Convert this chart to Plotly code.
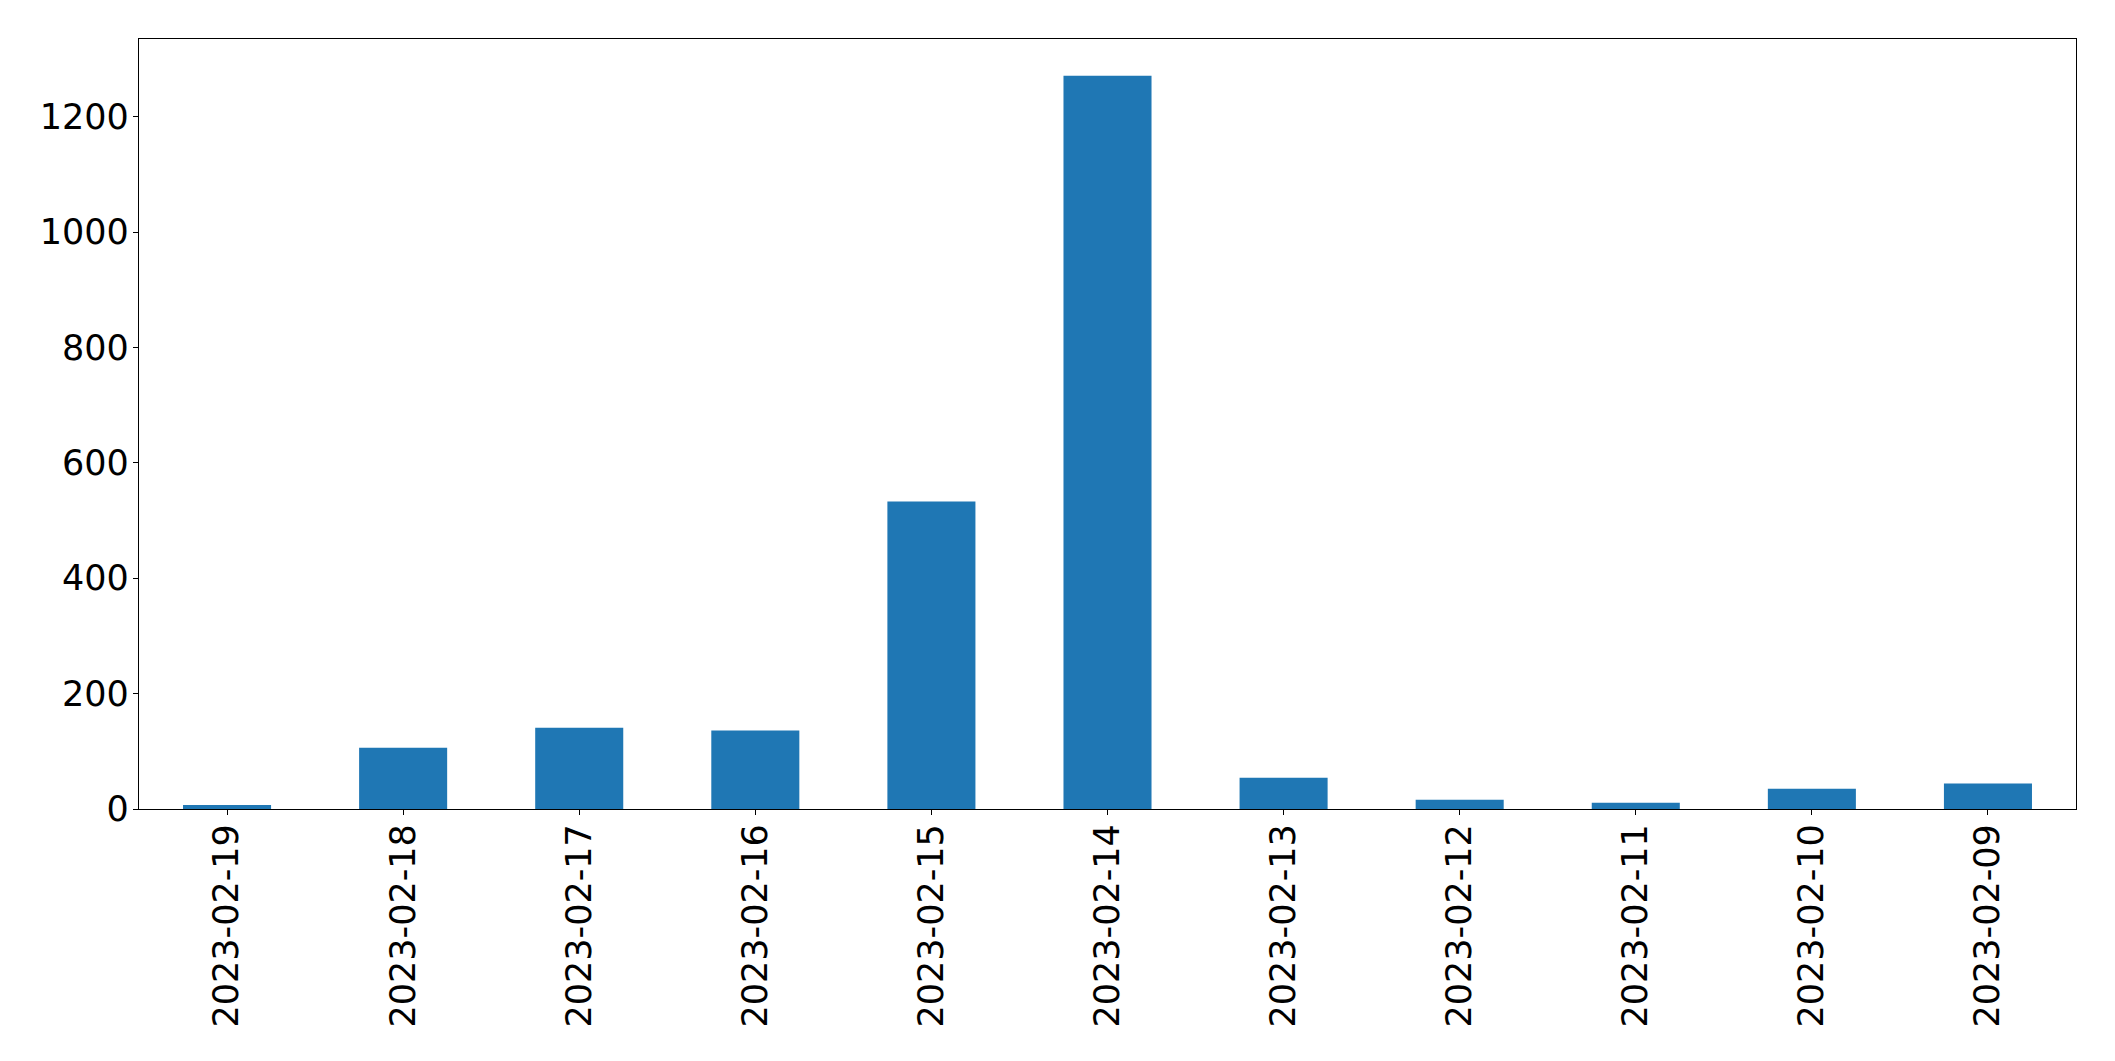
import plotly.graph_objects as go

dates = ["2023-02-19", "2023-02-18", "2023-02-17", "2023-02-16", "2023-02-15",
         "2023-02-14", "2023-02-13", "2023-02-12", "2023-02-11", "2023-02-10", "2023-02-09"]
counts = [7, 106, 141, 136, 533, 1271, 54, 16, 11, 35, 44]
y_ticks = [0, 200, 400, 600, 800, 1000, 1200]

fig = go.Figure(go.Bar(x=dates, y=counts, marker=dict(color="#1f77b4", line=dict(width=0))))

axis_common = dict(showline=True, linecolor="black", linewidth=1.3, mirror=True,
                   ticks="outside", ticklen=5, tickwidth=1.2, tickcolor="black",
                   showgrid=False, zeroline=False,
                   tickfont=dict(family="DejaVu Sans", size=35, color="black"))

fig.update_layout(
    width=2107, height=1053,
    margin=dict(l=131, r=39, t=31, b=252, pad=0),
    paper_bgcolor="white", plot_bgcolor="white",
    bargap=0.5, showlegend=False,
    xaxis=dict(type="category", tickangle=-90, range=[-0.5, len(dates) - 0.5],
               ticklabelstandoff=-5, **axis_common),
    yaxis=dict(range=[0, max(counts) * 1.05], tickvals=y_ticks, ticktext=[str(v) for v in y_ticks],
               ticklabelstandoff=-3, **axis_common),
)

fig.write_html("out.html")
